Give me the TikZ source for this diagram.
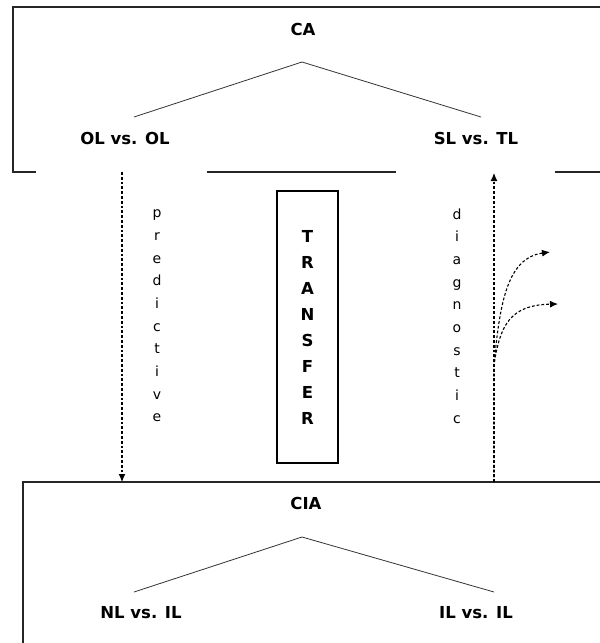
\documentclass[tikz,border=0pt]{standalone}
\usepackage{fontspec}
\setmainfont{DejaVu Sans}
\usetikzlibrary{arrows.meta}
\begin{document}
\begin{tikzpicture}[x=1pt,y=-1pt,
  frame/.style={line width=1.3pt, draw=black!85},
  branch/.style={line width=0.8pt, draw=black!80},
  label/.style={font=\bfseries\fontsize{16.5}{18}\selectfont, inner sep=0pt},
  vword/.style={align=center, inner sep=0pt, font=\fontsize{14}{22.7}\selectfont},
  flow/.style={line width=1.1pt, dash pattern=on 2.8pt off 2pt, -{Latex[length=8pt,width=7pt]}},
]
\useasboundingbox (0,0) rectangle (600,643);

% upper frame: contrastive analysis
\draw[frame] (600,7) -- (13,7) -- (13,172) -- (36,172);
\draw[frame] (207,172) -- (396,172);
\draw[frame] (555,172) -- (600,172);

\node[label] (ca) at (303,29) {CA};
\node[label] (olol) at (125,138) {OL vs. OL};
\node[label] (sltl) at (476,138) {SL vs. TL};
\coordinate (caapex) at (302,62);
\coordinate (caleft) at (134,117);
\coordinate (caright) at (481,117);
\draw[branch] (caleft) -- (caapex) -- (caright);

% lower frame: contrastive interlanguage analysis
\draw[frame] (600,482) -- (23,482) -- (23,643);

\node[label] (cia) at (306,503) {CIA};
\node[label] (nlil) at (141,613) {NL vs. IL};
\node[label] (ilil) at (476,613) {IL vs. IL};
\coordinate (ciaapex) at (302,537);
\coordinate (cialeft) at (134,592);
\coordinate (ciaright) at (494,592);
\draw[branch] (cialeft) -- (ciaapex) -- (ciaright);

% transfer box in the middle
\node[draw, line width=1.1pt, minimum width=61pt, minimum height=272pt, inner sep=0pt,
      align=center, font=\bfseries\fontsize{16.5}{26}\selectfont] (transfer) at (307.5,327)
  {T\\R\\A\\N\\S\\F\\E\\R};

% predictive direction
\coordinate (predtop) at (122,172);
\coordinate (predbot) at (122,482);
\draw[flow] (predtop) -- (predbot);
\node[vword] (pred) at (157,316) {p\\r\\e\\d\\i\\c\\t\\i\\v\\e};

% diagnostic direction
\coordinate (diagbot) at (494,482);
\coordinate (diagtop) at (494,173);
\coordinate (diagsplit) at (494,365);
\coordinate (branchA) at (550,252);
\coordinate (branchB) at (558,304);
\draw[flow] (diagbot) -- (diagtop);
\draw[flow] (diagbot) -- (diagsplit) .. controls (500,300) and (508,258) .. (branchA);
\draw[flow] (diagbot) -- (diagsplit) .. controls (500,325) and (510,305) .. (branchB);
\node[vword] (diag) at (457,316) {d\\i\\a\\g\\n\\o\\s\\t\\i\\c};
\end{tikzpicture}
\end{document}
